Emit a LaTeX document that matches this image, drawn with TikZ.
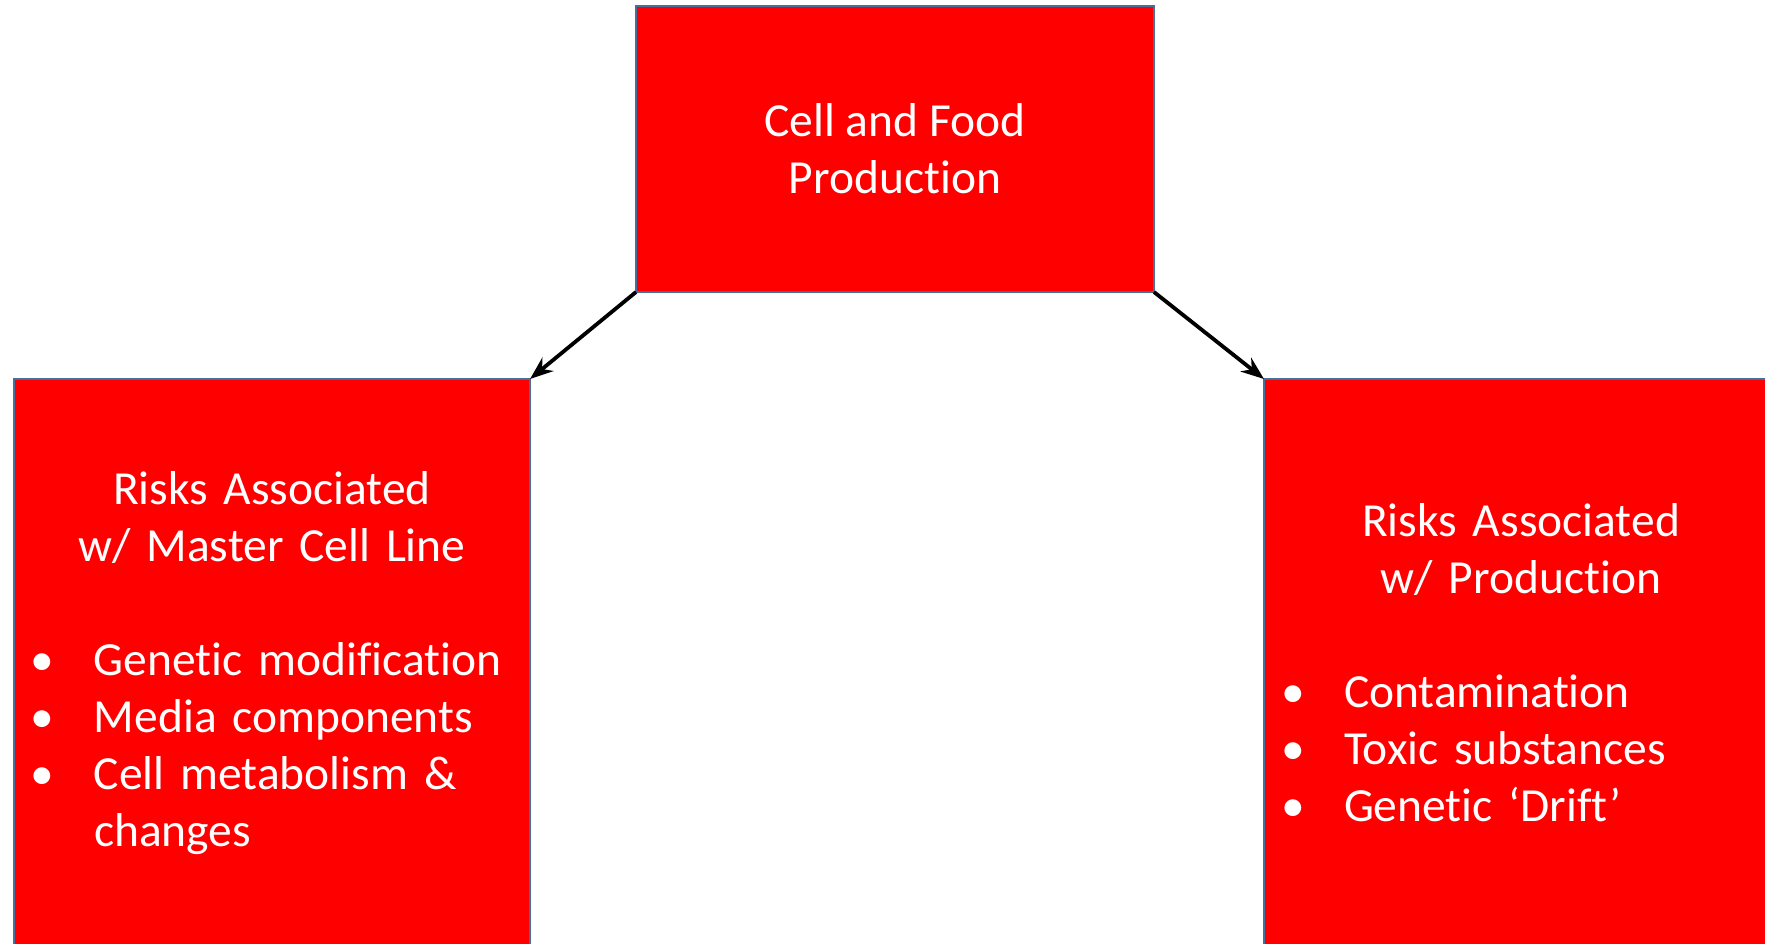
\documentclass[tikz,border=0pt]{standalone}
\usepackage{fontspec}
\setmainfont{Carlito}[RawFeature={-liga}]
\usetikzlibrary{arrows.meta, positioning}

\definecolor{boxred}{HTML}{FF0000}
\definecolor{boxedge}{HTML}{41719C}

% one bullet line of a risk list, and a follow-on line
\newcommand{\riskitem}[1]{\par\leavevmode\hspace*{8.5pt}\makebox[31.5pt][l]{\textbullet}#1\par}
\newcommand{\riskmore}[1]{\par\leavevmode\hspace*{40pt}#1\par}

\begin{document}
\begin{tikzpicture}[x=0.5pt, y=-0.5pt,
        topbox/.style={rectangle, draw=boxedge, line width=0.75pt, fill=boxred, text=white, minimum width=259pt, minimum height=143pt, inner sep=0pt, outer sep=0pt, align=center, font=\fontsize{23.75}{28.5}\selectfont},
        riskbox/.style={rectangle, draw=boxedge, line width=0.75pt, fill=boxred, text=white, text width=258pt, minimum height=284pt, inner sep=0pt, outer sep=0pt, align=left, font=\fontsize{23.75}{28.5}\selectfont},
        arrow/.style={-Stealth, line width=1.9pt, black}]

    \useasboundingbox (0,0) rectangle (1765,943);
    \clip (0,0) rectangle (1765,943);

    % Top of the chart
    \node[topbox] (cellfood) at (895,149) {Cell and Food\\Production};

    % Risk branches
    \node[riskbox, below left=43.5pt and 53pt of cellfood.south west] (masterline) {%
        {\centering Risks Associated\\w/ Master Cell Line\par}
        \vspace{\baselineskip}
        \riskitem{Genetic modification}
        \riskitem{Media components}
        \riskitem{Cell metabolism \&}
        \riskmore{changes}};
    \node[riskbox, text width=257pt, below right=43.5pt and 55pt of cellfood.south east] (production) {%
        {\centering Risks Associated\\w/ Production\par}
        \vspace{\baselineskip}
        \riskitem{Contamination}
        \riskitem{Toxic substances}
        \riskitem{Genetic ‘Drift’}};

    % Connections
    \draw[arrow] (cellfood.south west) -- (masterline.north east);
    \draw[arrow] (cellfood.south east) -- (production.north west);

\end{tikzpicture}
\end{document}
